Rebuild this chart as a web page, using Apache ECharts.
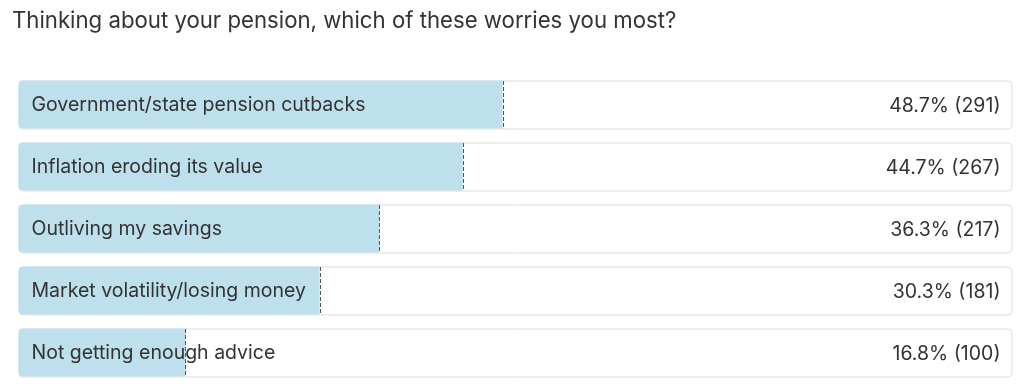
<!DOCTYPE html>
<html><head><meta charset="utf-8">
<script src="https://cdn.jsdelivr.net/npm/echarts@6/dist/echarts.min.js"></script>
<style>html,body{margin:0;padding:0;background:#fff}#c{width:1024px;height:389px}</style>
</head><body><div id="c"></div>
<script>
const title = "Thinking about your pension, which of these worries you most?";
const categories = ["Government/state pension cutbacks","Inflation eroding its value","Outliving my savings","Market volatility/losing money","Not getting enough advice"];
const percents = [48.7, 44.7, 36.3, 30.3, 16.8];
const counts = [291, 267, 217, 181, 100];
const fullScale = [100, 100, 100, 100, 100];

const chart = echarts.init(document.getElementById('c'));
const FONT = 'Inter, "Noto Sans", sans-serif';
chart.setOption({
  animation: false,
  title: { text: title, left: 7, top: 5, textStyle: { fontFamily: FONT, fontSize: 22.2, fontWeight: 'normal', color: '#333' } },
  grid: { left: 18.5, right: 11.5, top: 73.5, bottom: 5.5 },
  xAxis: { type: 'value', min: 0, max: 100, show: false },
  yAxis: { type: 'category', data: categories, inverse: true, show: false },
  series: [
    { type: 'bar', data: fullScale, barWidth: 49, barGap: '-100%', z: 1,
      itemStyle: { color: '#fff', borderColor: '#dedede', borderWidth: 1, borderRadius: 4 },
      label: { show: true, position: 'insideRight', distance: 12, offset: [0, 1], fontFamily: FONT, fontSize: 19.5, color: '#333',
        formatter: p => percents[p.dataIndex].toFixed(1) + '% (' + counts[p.dataIndex] + ')' } },
    { type: 'bar', data: percents, barWidth: 48, barGap: '-100%', z: 2,
      itemStyle: { color: '#bde0ec', borderRadius: [4, 0, 0, 4] } },
    { type: 'custom', z: 3, data: percents.map((v, i) => [v, i]),
      renderItem: (params, api) => {
        const p = api.coord([api.value(0), api.value(1)]);
        const h = api.size([0, 1])[1] * 49 / 62;
        const x = Math.round(p[0]) + 0.5;
        return { type: 'group', children: [
          { type: 'line', shape: { x1: x, y1: p[1] - h / 2 + 1, x2: x, y2: p[1] + h / 2 - 1 },
            style: { stroke: '#555', lineWidth: 1, lineDash: [4, 2] } },
          { type: 'text', style: { text: categories[params.dataIndex], x: api.coord([0, 0])[0] + 13, y: p[1] + 1,
              verticalAlign: 'middle', fill: '#333', font: '19.5px ' + FONT } }
        ] };
      } }
  ]
});
</script></body></html>
